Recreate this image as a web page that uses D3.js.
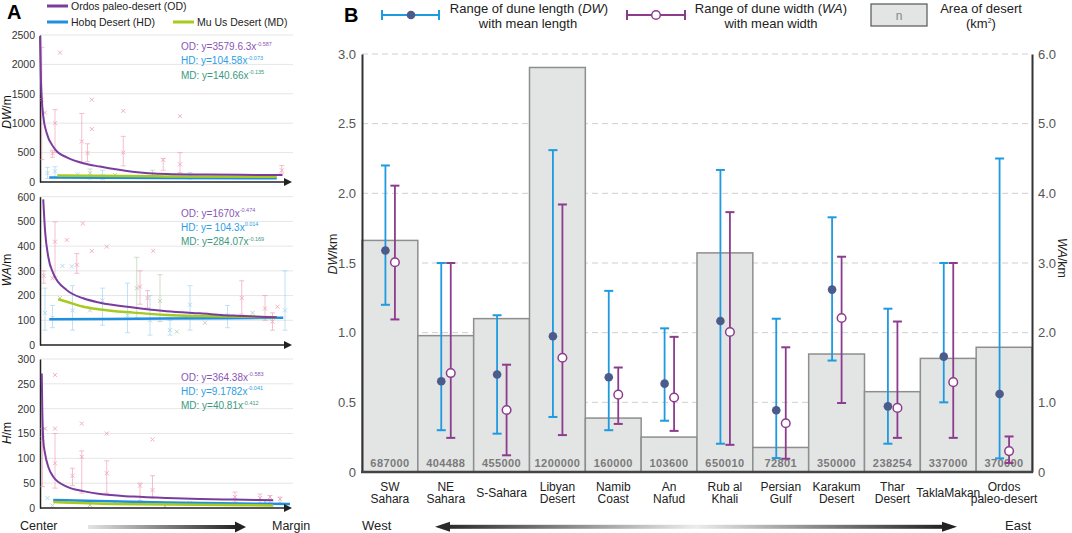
<!DOCTYPE html>
<html>
<head>
<meta charset="utf-8">
<script src="https://cdn.jsdelivr.net/npm/d3@7"></script>
<style>
  body { margin: 0; background: #fff; }
  svg { display: block; font-family: "Liberation Sans", Arial, sans-serif; }
</style>
</head>
<body>
<svg id="chart" width="1072" height="533"></svg>
<script>
// ---- Panel A data (position along centre->margin 0..100, value) ----
const odDW = [[0,2480],[0.4,1700],[1.3,1120],[2.7,830],[5.3,600],[7,510],[10.7,420],[17.3,320],[24,262],[37,176],[51,137],[64,128],[80,122],[97,120]];
const hdDW = [[3.7,75],[50,68],[94.7,62]];
const mdDW = [[6.9,110],[50,95],[94.7,90]];
const odWA = [[1.3,589],[2,465],[3.3,357],[5.3,290],[10.7,222],[17.3,189],[24,171],[37.3,152],[50.7,137],[64,128],[77.3,119],[94.7,112]];
const hdWA = [[3.7,104],[50,107],[97.3,110]];
const mdWA = [[7.3,185],[10.7,175],[17.3,155],[24,144],[37.3,131],[50.7,121],[64,117],[77.3,115],[94.7,112]];
const odH = [[0.7,271],[0.9,204],[1.3,137],[2,110],[3.3,83],[5.3,63],[10.7,43],[17.3,34],[24,28],[37.3,23],[50.7,20],[64,18],[77.3,17],[93.3,15.5]];
const hdH = [[5.3,16],[50,11],[100,8]];
const mdH = [[5.3,12],[30,8],[93.3,5]];

// scatter [pos, value, low, high]
const dwScatter = {
  OD: [[0.7,1400,380,2290],[2,1180],[8,2200],[6,1000,500,1230],[5,490,420,540],[16.7,690,324,1165],[19,491,350,650],[20.7,1400],[20.7,900],[33.3,1210],[33.3,500,274,776],[56,1120],[56,300,160,500],[49.3,377,200,400],[96.7,200,150,280]],
  HD: [[3,150,60,250],[6,180,80,260],[15,130],[25,100,40,200],[40,90],[60,110,50,160],[80,80]],
  MD: [[20,150,50,220],[30,120],[45,130,60,200],[70,90]]
};
const waScatter = {
  OD: [[1.5,280,250,300],[6,418,276,498],[5,270],[10.7,425],[14.7,324,290,370],[17.1,492],[20.7,380],[26.7,398],[45.3,381],[40,236,165,300],[43,190,150,220],[80.7,190,125,260],[90,148,100,200],[95,155],[93,95,60,130]],
  HD: [[2,130,60,230],[5,110,70,160],[9,320],[12.7,318],[13,140,60,240],[25,180,80,230],[35,120,50,250],[44,100,40,200],[52,60,40,100],[60,163,60,240],[75,120,70,160],[98,140,60,300]],
  MD: [[8,190],[20,140],[38.7,230,110,355],[48,178,95,285],[54.7,54],[66,90],[85,130]]
};
const hScatter = {
  OD: [[1,140,43,160],[6,268],[6,160],[6,90,40,150],[2,160],[16.7,170],[16.7,103,30,115],[13,65,45,80],[26.7,150],[26.7,70,30,95],[45,138],[45,36,20,65],[40,45,15,50],[78,22,12,32],[88,20,10,28],[92,22,10,25],[96,18,10,22]],
  HD: [[3,20],[10,15],[30,12],[60,10],[90,12]],
  MD: [[5,5],[20,6],[50,4]]
};
const eqDW = [["OD: y=3579.6.3x","-0.587"],["HD: y=104.58x","-0.073"],["MD: y=140.66x","-0.135"]];
const eqWA = [["OD: y=1670x","-0.474"],["HD: y= 104.3x","0.014"],["MD: y=284.07x","-0.169"]];
const eqH = [["OD: y=364.38x","-0.583"],["HD: y=9.1782x","-0.041"],["MD: y=40.81x","-0.412"]];
const seriesNames = ["Ordos paleo-desert (OD)","Hobq Desert (HD)","Mu Us Desert (MD)"];

// ---- Panel B data ----
const deserts = [["SW","Sahara"],["NE","Sahara"],["S-Sahara"],["Libyan","Desert"],["Namib","Coast"],["An","Nafud"],["Rub al","Khali"],["Persian","Gulf"],["Karakum","Desert"],["Thar","Desert"],["TaklaMakan"],["Ordos","paleo-desert"]];
const areas = [687000,404488,455000,1200000,160000,103600,650010,72801,350000,238254,337000,370000];
const dwMin = [1.20,0.30,0.275,0.395,0.30,0.368,0.203,0.10,0.80,0.203,0.50,0.098];
const dwMax = [2.20,1.50,1.125,2.31,1.30,1.031,2.168,1.10,1.828,1.172,1.50,2.25];
const dwMean = [1.59,0.651,0.70,0.974,0.68,0.634,1.084,0.443,1.309,0.471,0.828,0.56];
const waMin = [2.19,0.49,0.24,0.53,0.69,0.59,0.39,0.19,0.99,0.49,0.49,0.13];
const waMax = [4.11,3.0,1.54,3.84,1.50,1.94,3.73,1.79,3.09,2.16,3.0,0.51];
const waMean = [3.01,1.42,0.89,1.64,1.11,1.07,2.01,0.70,2.21,0.92,1.29,0.30];
const leftTicks = [0,0.5,1.0,1.5,2.0,2.5,3.0];
const rightTicks = [0,1.0,2.0,3.0,4.0,5.0,6.0];

const C = { od: "#7a3d9e", hd: "#1f8fe0", md: "#a6cb1e", odT: "#8a55b5", hdT: "#2a9ee6", mdT: "#3a9a7e",
            blue: "#1e9ae0", purple: "#8c3c8c", dot: "#4b5b8b" };

const svg = d3.select("#chart");
const defs = svg.append("defs");

// ================= PANEL A =================
svg.append("text").attr("x", 7).attr("y", 19).attr("font-size", 20).attr("font-weight", "bold").text("A");

const lg = svg.append("g").attr("font-size", 10.5).attr("fill", "#222");
[[47, 6, C.od, 0], [47, 22, C.hd, 1], [173, 22, C.md, 2]].forEach(([x, y, col, i]) => {
  lg.append("line").attr("x1", x).attr("x2", x + 21).attr("y1", y).attr("y2", y).attr("stroke", col).attr("stroke-width", 3);
  lg.append("text").attr("x", x + 24).attr("y", y + 4).text(seriesNames[i]);
});

const xA = d3.scaleLinear().domain([0, 100]).range([40, 290]);
const panels = [
  { y0: 182, y1: 35, max: 2500, step: 500, title: ["DW", "/m"], ty: 112, od: odDW, hd: hdDW, md: mdDW, sc: dwScatter, eq: eqDW, ey: 50 },
  { y0: 345, y1: 196.7, max: 600, step: 100, title: ["WA", "/m"], ty: 270, od: odWA, hd: hdWA, md: mdWA, sc: waScatter, eq: eqWA, ey: 216.5 },
  { y0: 508, y1: 359, max: 300, step: 50, title: ["H", "/m"], ty: 433, od: odH, hd: hdH, md: mdH, sc: hScatter, eq: eqH, ey: 380.5 }
];

panels.forEach(p => {
  const y = d3.scaleLinear().domain([0, p.max]).range([p.y0, p.y1]);
  const g = svg.append("g");
  const ticks = d3.range(0, p.max + 1, p.step);
  g.selectAll(".grid").data(ticks.filter(t => t > 0)).join("line")
    .attr("x1", 40).attr("x2", 293).attr("y1", d => y(d)).attr("y2", d => y(d))
    .attr("stroke", "#e6e6e6").attr("stroke-width", 1);
  const ax = g.append("g").attr("transform", "translate(40,0)")
    .call(d3.axisLeft(y).tickValues(ticks).tickFormat(d3.format("d")).tickSize(0).tickPadding(5));
  ax.select(".domain").attr("stroke", "#222").attr("stroke-width", 1.5);
  ax.selectAll("text").attr("font-size", 10.5).attr("fill", "#333").attr("font-family", "Liberation Sans, Arial, sans-serif");

  // scatter
  const scCol = { OD: "#ee8fa8", HD: "#8fcdf0", MD: "#a9c4a0" };
  Object.entries(p.sc).forEach(([k, pts]) => {
    const sg = g.append("g").attr("stroke", scCol[k]).attr("stroke-width", 0.8).attr("opacity", 0.7);
    pts.forEach(d => {
      const px = xA(d[0]), py = y(d[1]);
      if (d.length > 2) {
        sg.append("line").attr("x1", px).attr("x2", px).attr("y1", y(d[2])).attr("y2", y(d[3]));
        [d[2], d[3]].forEach(v => sg.append("line").attr("x1", px - 2.5).attr("x2", px + 2.5).attr("y1", y(v)).attr("y2", y(v)));
      }
      sg.append("path").attr("d", `M${px - 2},${py - 2}L${px + 2},${py + 2}M${px - 2},${py + 2}L${px + 2},${py - 2}`).attr("stroke-width", 1);
    });
  });

  const line = d3.line().x(d => xA(d[0])).y(d => y(d[1])).curve(d3.curveMonotoneX);
  g.append("path").attr("d", line(p.hd)).attr("fill", "none").attr("stroke", C.hd).attr("stroke-width", 2.5);
  g.append("path").attr("d", line(p.md)).attr("fill", "none").attr("stroke", C.md).attr("stroke-width", 2.5);
  g.append("path").attr("d", line(p.od)).attr("fill", "none").attr("stroke", C.od).attr("stroke-width", 2);

  // x axis arrow
  g.append("line").attr("x1", 40).attr("x2", 286).attr("y1", p.y0).attr("y2", p.y0).attr("stroke", "#222").attr("stroke-width", 1.5);
  g.append("path").attr("d", `M284,${p.y0 - 4}L292,${p.y0}L284,${p.y0 + 4}Z`).attr("fill", "#222");

  // equations
  [C.odT, C.hdT, C.mdT].forEach((col, i) => {
    const t = g.append("text").attr("x", 181).attr("y", p.ey + i * 14.3).attr("font-size", 10).attr("fill", col);
    t.append("tspan").text(p.eq[i][0]);
    t.append("tspan").attr("font-size", 5.5).attr("dy", -4.5).text(p.eq[i][1]);
  });

  // y title
  const tt = g.append("text").attr("transform", `translate(11,${p.ty}) rotate(-90)`).attr("text-anchor", "middle")
    .attr("font-size", 12).attr("fill", "#111");
  tt.append("tspan").attr("font-style", "italic").text(p.title[0]);
  tt.append("tspan").text(p.title[1]);
});

// center -> margin arrow
const gA = defs.append("linearGradient").attr("id", "gradA");
gA.append("stop").attr("offset", "0%").attr("stop-color", "#e4e4e4");
gA.append("stop").attr("offset", "100%").attr("stop-color", "#222");
svg.append("rect").attr("x", 88).attr("y", 525).attr("width", 150).attr("height", 4).attr("fill", "url(#gradA)");
svg.append("path").attr("d", "M235,521.5L246,527L235,532.5Z").attr("fill", "#222");
svg.append("text").attr("x", 20).attr("y", 530).attr("font-size", 12.5).attr("fill", "#222").text("Center");
svg.append("text").attr("x", 272).attr("y", 530).attr("font-size", 12.5).attr("fill", "#222").text("Margin");

// ================= PANEL B =================
const x = d3.scaleBand().domain(d3.range(deserts.length)).range([362, 1032]).padding(0);
const yL = d3.scaleLinear().domain([0, 3]).range([472, 54]);
const yR = d3.scaleLinear().domain([0, 6]).range([472, 54]);
const yArea = d3.scaleLinear().domain([0, 1240000]).range([472, 54]);

const gb = svg.append("g");
// grid
gb.selectAll(".gl").data(leftTicks.filter(t => t > 0)).join("line")
  .attr("x1", 362).attr("x2", 1032).attr("y1", d => yL(d)).attr("y2", d => yL(d))
  .attr("stroke", "#cfcfcf").attr("stroke-dasharray", "6,4");

// bars
gb.selectAll(".bar").data(areas).join("rect")
  .attr("x", (d, i) => x(i)).attr("width", x.bandwidth())
  .attr("y", d => yArea(d)).attr("height", d => 472 - yArea(d))
  .attr("fill", "#e3e4e4").attr("stroke", "#8e8e8e").attr("stroke-width", 1.5);
gb.selectAll(".alab").data(areas).join("text")
  .attr("x", (d, i) => x(i) + x.bandwidth() / 2).attr("y", 467).attr("text-anchor", "middle")
  .attr("font-size", 11).attr("font-weight", "bold").attr("fill", "#7a7a7a").attr("letter-spacing", 0.4)
  .text(d => d);

// error bars
function errBar(g, cx, lo, hi, col) {
  g.append("line").attr("x1", cx).attr("x2", cx).attr("y1", lo).attr("y2", hi).attr("stroke", col).attr("stroke-width", 1.8);
  [lo, hi].forEach(v => g.append("line").attr("x1", cx - 4.5).attr("x2", cx + 4.5).attr("y1", v).attr("y2", v).attr("stroke", col).attr("stroke-width", 2));
}
deserts.forEach((d, i) => {
  const cx = x(i) + x.bandwidth() / 2;
  errBar(gb, cx - 4.5, yL(dwMin[i]), yL(dwMax[i]), C.blue);
  errBar(gb, cx + 5, yR(waMin[i]), yR(waMax[i]), C.purple);
  gb.append("circle").attr("cx", cx - 4.5).attr("cy", yL(dwMean[i])).attr("r", 4.3).attr("fill", C.dot);
  gb.append("circle").attr("cx", cx + 5).attr("cy", yR(waMean[i])).attr("r", 4.3).attr("fill", "#fff").attr("stroke", C.purple).attr("stroke-width", 1.5);
});

// axes
const axL = gb.append("g").attr("transform", "translate(362,0)")
  .call(d3.axisLeft(yL).tickValues(leftTicks).tickFormat(d => d === 0 ? "0" : d3.format(".1f")(d)).tickSize(0).tickPadding(6));
axL.select(".domain").attr("stroke", "#333").attr("stroke-width", 2);
const axR = gb.append("g").attr("transform", "translate(1032,0)")
  .call(d3.axisRight(yR).tickValues(rightTicks).tickFormat(d => d === 0 ? "0" : d3.format(".1f")(d)).tickSize(0).tickPadding(6));
axR.select(".domain").attr("stroke", "#333").attr("stroke-width", 2);
[axL, axR].forEach(a => a.selectAll("text").attr("font-size", 13).attr("fill", "#555").attr("font-family", "Liberation Sans, Arial, sans-serif"));
gb.append("line").attr("x1", 361).attr("x2", 1033).attr("y1", 472).attr("y2", 472).attr("stroke", "#444").attr("stroke-width", 2.5);

// axis titles
const tl = gb.append("text").attr("transform", "translate(337,254) rotate(-90)").attr("text-anchor", "middle").attr("font-size", 12.5).attr("fill", "#222");
tl.append("tspan").attr("font-style", "italic").text("DW");
tl.append("tspan").text("/km");
const tr = gb.append("text").attr("transform", "translate(1058,258) rotate(90)").attr("text-anchor", "middle").attr("font-size", 12.5).attr("fill", "#222");
tr.append("tspan").attr("font-style", "italic").text("WA");
tr.append("tspan").text("/km");

// x labels
deserts.forEach((lines, i) => {
  const cx = x(i) + x.bandwidth() / 2;
  const t = gb.append("text").attr("text-anchor", "middle").attr("font-size", 12).attr("fill", "#222");
  if (lines.length === 1) t.append("tspan").attr("x", cx).attr("y", 496.5).text(lines[0]);
  else lines.forEach((s, j) => t.append("tspan").attr("x", cx).attr("y", 491 + j * 12).text(s));
});

// west-east arrow
const gB = defs.append("linearGradient").attr("id", "gradB");
gB.append("stop").attr("offset", "0%").attr("stop-color", "#2a2a2a");
gB.append("stop").attr("offset", "50%").attr("stop-color", "#ececec");
gB.append("stop").attr("offset", "100%").attr("stop-color", "#222");
svg.append("rect").attr("x", 447).attr("y", 524.8).attr("width", 497).attr("height", 4).attr("fill", "url(#gradB)");
svg.append("path").attr("d", "M435,526.8L450,521.8L450,531.8Z").attr("fill", "#2a2a2a");
svg.append("path").attr("d", "M957,526.8L942,521.8L942,531.8Z").attr("fill", "#222");
svg.append("text").attr("x", 362).attr("y", 530).attr("font-size", 13).attr("fill", "#222").text("West");
svg.append("text").attr("x", 1005).attr("y", 530).attr("font-size", 13).attr("fill", "#222").text("East");

// legend B
svg.append("text").attr("x", 344).attr("y", 22).attr("font-size", 20).attr("font-weight", "bold").text("B");
const lb = svg.append("g").attr("font-size", 13).attr("fill", "#222").attr("text-anchor", "middle");
function legBar(x1, x2, col) {
  lb.append("line").attr("x1", x1).attr("x2", x2).attr("y1", 15).attr("y2", 15).attr("stroke", col).attr("stroke-width", 1.8);
  [x1, x2].forEach(v => lb.append("line").attr("x1", v).attr("x2", v).attr("y1", 10).attr("y2", 20).attr("stroke", col).attr("stroke-width", 2));
}
legBar(382, 439, C.blue);
lb.append("circle").attr("cx", 411).attr("cy", 15).attr("r", 4.3).attr("fill", C.dot);
const t1 = lb.append("text").attr("x", 529).attr("y", 13);
t1.append("tspan").text("Range of dune length (");
t1.append("tspan").attr("font-style", "italic").text("DW");
t1.append("tspan").text(")");
lb.append("text").attr("x", 528).attr("y", 28).text("with mean length");
legBar(627, 685, C.purple);
lb.append("circle").attr("cx", 656).attr("cy", 15).attr("r", 4.3).attr("fill", "#fff").attr("stroke", C.purple).attr("stroke-width", 1.5);
const t2 = lb.append("text").attr("x", 771).attr("y", 13);
t2.append("tspan").text("Range of dune width (");
t2.append("tspan").attr("font-style", "italic").text("WA");
t2.append("tspan").text(")");
lb.append("text").attr("x", 771).attr("y", 28).text("with mean width");
lb.append("rect").attr("x", 871).attr("y", 4).attr("width", 56).attr("height", 22).attr("fill", "#e3e4e4").attr("stroke", "#555").attr("stroke-width", 1.2);
lb.append("text").attr("x", 899).attr("y", 19.5).attr("fill", "#888").attr("font-size", 12).text("n");
lb.append("text").attr("x", 981).attr("y", 13).text("Area of desert");
const t3 = lb.append("text").attr("x", 981).attr("y", 28);
t3.append("tspan").text("(km");
t3.append("tspan").attr("font-size", 7).attr("dy", -5).text("2");
t3.append("tspan").attr("dy", 5).text(")");
</script>
</body>
</html>
